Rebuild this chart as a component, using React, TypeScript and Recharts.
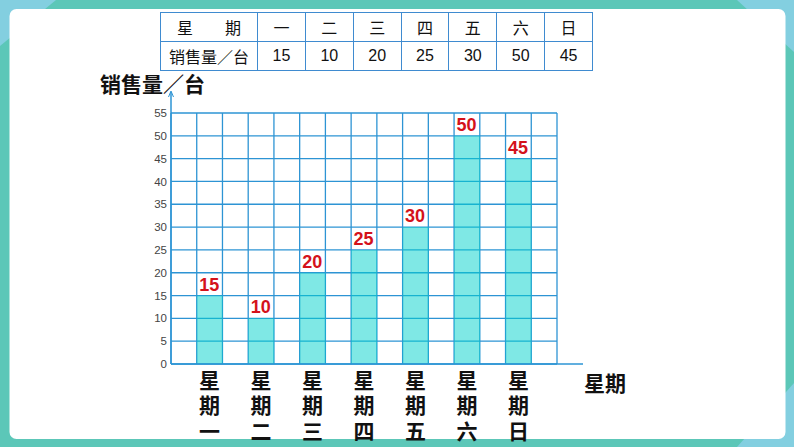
import React from 'react';
import * as R from 'recharts';
import { BarChart, Bar, XAxis, YAxis, CartesianGrid, LabelList } from 'recharts';

const days = ['一', '二', '三', '四', '五', '六', '日'];
const sales = [15, 10, 20, 25, 30, 50, 45];
const yTicks = [0, 5, 10, 15, 20, 25, 30, 35, 40, 45, 50, 55];

// Each day occupies the second of two grid columns; one blank column at the end.
const slots: { name: string; value: number | null }[] = [];
days.forEach((d, i) => {
  slots.push({ name: '', value: null });
  slots.push({ name: d, value: sales[i] });
});
slots.push({ name: '', value: null });

const GRID = '#2d94d4';
const CJK = '"Liberation Sans", "Noto Sans CJK SC", sans-serif';

const usePlot: any = (R as any).usePlotArea || (R as any).useOffset || (() => null);

const AxisExtensions = () => {
  const p = usePlot();
  if (!p) return null;
  const left = p.x ?? p.left;
  const top = p.y ?? p.top;
  const w = p.width;
  const h = p.height;
  if (left == null || top == null || w == null || h == null) return null;
  const bottom = top + h;
  const right = left + w;
  return (
    <g>
      <line x1={left} y1={top} x2={left} y2={top - 21} stroke={GRID} strokeWidth={1.5} />
      <path d={`M${left - 2.5},${top - 16} L${left},${top - 22} L${left + 2.5},${top - 16}`} fill="none" stroke={GRID} strokeWidth={1} />
      <line x1={right} y1={bottom} x2={right + 26} y2={bottom} stroke={GRID} strokeWidth={1.5} />
    </g>
  );
};

// vertical grid lines on the band boundaries of the slot axis
const bandEdges = (args: any) => {
  const o = args.offset;
  const n = slots.length;
  return Array.from({ length: n + 1 }, (_, k) => o.left + (k * o.width) / n);
};

const DayTick = (props: any) => {
  const { x, y, payload } = props;
  if (!payload || !payload.value) return null;
  const chars = ['星', '期', payload.value];
  return (
    <g>
      {chars.map((c, i) => (
        <text
          key={i}
          x={x}
          y={y + 16 + i * 25.5}
          textAnchor="middle"
          dominantBaseline="central"
          fontSize={21}
          fontWeight={700}
          fill="#111"
          fontFamily={CJK}
        >
          {c}
        </text>
      ))}
    </g>
  );
};

const ValueLabel = (props: any) => {
  const { x, y, width, value } = props;
  if (value == null) return null;
  return (
    <text
      x={x + width / 2 - 0.5}
      y={y - 11}
      textAnchor="middle"
      dominantBaseline="central"
      fontSize={18}
      fontWeight={700}
      fill="#d4121b"
      fontFamily={CJK}
    >
      {value}
    </text>
  );
};

const cellStyle: React.CSSProperties = {
  border: '1.5px solid #3f8bd0',
  textAlign: 'center',
  padding: 0,
  height: 28,
  fontSize: 16,
  color: '#111',
};

export default function App() {
  return (
    <div style={{ position: 'absolute', left: 0, top: 0, width: 794, height: 447, overflow: 'hidden', background: '#5cc7b8', fontFamily: CJK }}>
      <svg width={794} height={447} style={{ position: 'absolute', left: 0, top: 0 }}>
        <polygon points="0,0 56,0 0,46" fill="#83cfe0" />
        <polygon points="737,0 794,0 794,52" fill="#83cfe0" />
        <polygon points="737,447 794,447 794,383" fill="#83cfe0" />
        <rect x={9.5} y={9} width={776} height={430} rx={7} fill="#ffffff" />
      </svg>

      <table
        style={{
          position: 'absolute',
          left: 160,
          top: 12,
          width: 432,
          borderCollapse: 'collapse',
          tableLayout: 'fixed',
          fontFamily: CJK,
        }}
      >
        <colgroup>
          <col style={{ width: 97 }} />
          {days.map((d) => (
            <col key={d} style={{ width: 47.86 }} />
          ))}
        </colgroup>
        <tbody>
          <tr>
            <td style={cellStyle}>星　　期</td>
            {days.map((d) => (
              <td key={d} style={cellStyle}>{d}</td>
            ))}
          </tr>
          <tr>
            <td style={cellStyle}>销售量／台</td>
            {sales.map((v, i) => (
              <td key={i} style={cellStyle}>{v}</td>
            ))}
          </tr>
        </tbody>
      </table>

      <div style={{ position: 'absolute', left: 100, top: 71, fontSize: 21, fontWeight: 700, color: '#111', whiteSpace: 'nowrap', lineHeight: '28px' }}>
        销售量／台
      </div>
      <div style={{ position: 'absolute', left: 584, top: 370, fontSize: 21, fontWeight: 700, color: '#111', whiteSpace: 'nowrap', lineHeight: '28px' }}>
        星期
      </div>

      <div style={{ position: 'absolute', left: 0, top: 0 }}>
        <BarChart
          width={794}
          height={447}
          data={slots}
          margin={{ top: 113, right: 237, bottom: 13, left: 141 }}
          barCategoryGap={0}
          style={{ overflow: 'visible' }}
        >
          <CartesianGrid stroke={GRID} strokeWidth={1.3} verticalCoordinatesGenerator={bandEdges} />
          <XAxis
            dataKey="name"
            interval={0}
            tickLine={false}
            tickSize={0}
            tickMargin={0}
            height={70}
            axisLine={{ stroke: GRID, strokeWidth: 1.5 }}
            tick={<DayTick />}
          />
          <YAxis
            domain={[0, 55]}
            ticks={yTicks}
            interval={0}
            width={30}
            tickLine={false}
            tickSize={0}
            tickMargin={4}
            axisLine={{ stroke: GRID, strokeWidth: 1.5 }}
            tick={{ fontSize: 11.5, fill: '#444', fontFamily: '"Liberation Sans", Arial, sans-serif' }}
          />
          <Bar dataKey="value" fill="#00d2cc" fillOpacity={0.5} isAnimationActive={false}>
            <LabelList dataKey="value" content={<ValueLabel />} />
          </Bar>
          <AxisExtensions />
        </BarChart>
      </div>
    </div>
  );
}
